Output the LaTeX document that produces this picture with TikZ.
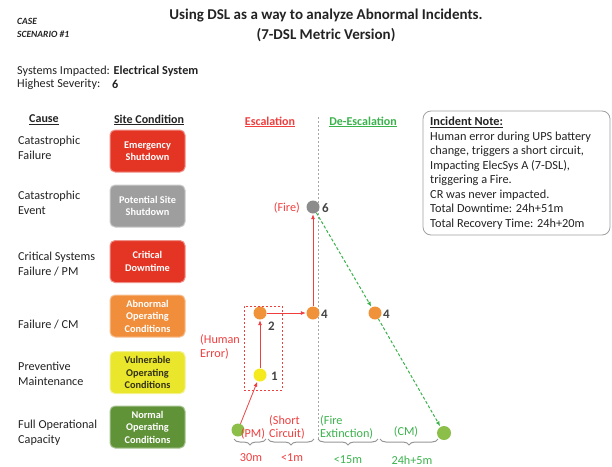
\documentclass[tikz,border=0pt]{standalone}
\usepackage{fontspec}
\setmainfont{Carlito}
\usetikzlibrary{arrows.meta,decorations.pathreplacing}

\definecolor{escred}{RGB}{238,62,62}
\definecolor{deesc}{RGB}{58,178,76}
\definecolor{boxred}{RGB}{228,52,36}
\definecolor{boxgray}{RGB}{158,158,158}
\definecolor{boxorange}{RGB}{240,142,60}
\definecolor{boxyellow}{RGB}{234,230,44}
\definecolor{boxgreen}{RGB}{96,146,56}
\definecolor{dotorange}{RGB}{240,146,58}
\definecolor{dotgray}{RGB}{140,140,140}
\definecolor{dotyellow}{RGB}{244,234,30}
\definecolor{dotgreen}{RGB}{140,190,74}
\definecolor{ink}{RGB}{35,35,35}
\definecolor{bracegray}{RGB}{150,150,150}

\tikzset{
  txt/.style={inner sep=0pt, text=ink, font=\fontsize{12.2}{15}\selectfont},
  cause/.style={txt, anchor=west, align=left},
  head/.style={txt, font=\bfseries\fontsize{12}{15}\selectfont},
  condbox/.style={rounded corners=5pt, minimum width=75pt, minimum height=42pt,
    inner sep=1pt, align=center, text=white,
    font=\bfseries\fontsize{10.3}{12.5}\selectfont, line width=1pt},
  dot/.style={circle, minimum size=13pt, inner sep=0pt},
  num/.style={txt, font=\bfseries\fontsize{13}{13}\selectfont, text=ink!85},
  redtxt/.style={txt, text=escred},
  greentxt/.style={txt, text=deesc},
  escarrow/.style={draw=escred, line width=0.8pt, -{Latex[length=5pt,width=4pt]}, shorten >=0.5pt},
  deescarrow/.style={draw=deesc, line width=1pt, dash pattern=on 3pt off 2pt,
    -{Latex[length=5pt,width=4pt]}, shorten >=0.5pt},
  spanbrace/.style={draw=bracegray, line width=1pt,
    decorate, decoration={brace, mirror, amplitude=6pt}},
}

\begin{document}
\begin{tikzpicture}[x=1pt, y=-1pt]
\useasboundingbox (0,0) rectangle (612,466);

% header
\node[txt, anchor=west, font=\bfseries\itshape\fontsize{9.5}{11}\selectfont] (case) at (17,21) {CASE};
\node[txt, anchor=west, font=\bfseries\itshape\fontsize{9.5}{11}\selectfont] (scen) at (17,34) {SCENARIO \#1};
\node[txt, font=\bfseries\fontsize{15}{18}\selectfont] (title1) at (326,16) {Using DSL as a way to analyze Abnormal Incidents.};
\node[txt, font=\bfseries\fontsize{15}{18}\selectfont] (title2) at (326,35) {(7-DSL Metric Version)};
\node[txt, anchor=west, font=\fontsize{12.2}{14}\selectfont] (sys) at (17,71) {Systems Impacted: \textbf{Electrical System}};
\node[txt, anchor=west, font=\fontsize{12.2}{14}\selectfont] (sev) at (17,84) {Highest Severity:};
\node[txt, anchor=west, font=\bfseries\fontsize{12.2}{14}\selectfont] (sevv) at (112,84) {6};

% column headings
\node[head] (hcause) at (44,120) {\underline{Cause}};
\node[head] (hsite) at (149,120) {\underline{Site Condition}};
\node[head, text=escred] (hesc) at (270,122) {\underline{Escalation}};
\node[head, text=deesc] (hdesc) at (363,122) {\underline{De-Escalation}};

% causes
\node[cause] (c1) at (18,147.5) {Catastrophic\\Failure};
\node[cause] (c2) at (18,202.5) {Catastrophic\\Event};
\node[cause] (c3) at (18,264.5) {Critical Systems\\Failure / PM};
\node[cause] (c4) at (18,325) {Failure / CM};
\node[cause] (c5) at (18,374) {Preventive\\Maintenance};
\node[cause] (c6) at (18,432.5) {Full Operational\\Capacity};

% site conditions
\node[condbox, fill=boxred, draw=boxred!55!white] (b1) at (147.5,151) {Emergency\\Shutdown};
\node[condbox, fill=boxgray, draw=boxgray!55!white] (b2) at (147.5,206) {Potential Site\\Shutdown};
\node[condbox, fill=boxred, draw=boxred!55!white] (b3) at (147.5,261.5) {Critical\\Downtime};
\node[condbox, fill=boxorange, draw=boxorange!55!white] (b4) at (147.5,316) {Abnormal\\Operating\\Conditions};
\node[condbox, fill=boxyellow, draw=boxyellow!55!white, text=ink!75!boxyellow!60!black] (b5) at (147.5,372.5) {Vulnerable\\Operating\\Conditions};
\node[condbox, fill=boxgreen, draw=boxgreen!55!white] (b6) at (147.5,427) {Normal\\Operating\\Conditions};

% escalation / de-escalation divider
\coordinate (divtop) at (318,117);
\coordinate (divbot) at (318,441);
\draw[gray!70, line width=0.8pt, dash pattern=on 2pt off 2pt] (divtop) -- (divbot);

% severity path
\node[dot, fill=dotgray] (n6) at (313,207) {};
\node[dot, fill=dotorange] (n4a) at (313,313) {};
\node[dot, fill=dotorange] (n4b) at (375,313) {};
\node[dot, fill=dotorange] (n2) at (260,313) {};
\node[dot, fill=dotyellow] (n1) at (260,375) {};
\node[dot, fill=dotgreen] (s) at (238,430) {};
\node[dot, fill=dotgreen, minimum size=14pt] (e) at (444,433) {};

\node[draw=escred, line width=0.8pt, dash pattern=on 2pt off 2pt,
      minimum width=38pt, minimum height=84pt, inner sep=0pt] (hebox) at (263,348) {};

\node[num, anchor=west] (l6) at (322,208) {6};
\node[num, anchor=west] (l4a) at (321,314) {4};
\node[num, anchor=west] (l4b) at (383,314) {4};
\node[num, anchor=west] (l2) at (268,326) {2};
\node[num, anchor=west] (l1) at (271,376) {1};

\draw[escarrow] (s) -- (n1);
\draw[escarrow] (n1) -- (n2);
\draw[escarrow] (n2) -- (n4a);
\draw[escarrow] (n4a) -- (n6);
\draw[deescarrow] (n6) -- (n4b);
\draw[deescarrow] (n4b) -- (e);

% event labels
\node[redtxt, anchor=east] (fire) at (300,208) {(Fire)};
\node[redtxt, anchor=west, align=left, font=\fontsize{12.2}{14}\selectfont] (human) at (200,347) {(Human\\Error)};
\node[redtxt] (pm) at (253,434) {(PM)};
\node[redtxt, anchor=west, align=left, font=\fontsize{12.2}{13.5}\selectfont] (short) at (269,427.5) {(Short\\Circuit)};
\node[greentxt, anchor=west, align=left, font=\fontsize{12.2}{13.5}\selectfont] (ext) at (320,427.5) {(Fire\\Extinction)};
\node[greentxt] (cm) at (406,432) {(CM)};

% durations
\coordinate (p0) at (234,439);
\coordinate (p1) at (266,439);
\coordinate (p2) at (268,439);
\coordinate (p3) at (314,439);
\coordinate (p4) at (318,439);
\coordinate (p5) at (378,439);
\coordinate (p6) at (380,439);
\coordinate (p7) at (438,439);
\draw[spanbrace] (p0) -- (p1);
\draw[spanbrace] (p2) -- (p3);
\draw[spanbrace] (p4) -- (p5);
\draw[spanbrace] (p6) -- (p7);
\node[redtxt] (t1) at (251,458) {30m};
\node[redtxt] (t2) at (292,458) {<1m};
\node[greentxt] (t3) at (348,460) {<15m};
\node[greentxt] (t4) at (412,460) {24h+5m};

% incident note
\node[draw=gray!75, line width=0.8pt, rounded corners=8pt, minimum width=187pt,
      minimum height=124pt, inner sep=0pt] (notebox) at (516.5,173) {};
\node[txt, anchor=north west, align=left, font=\fontsize{12.3}{14.5}\selectfont] (note) at (430,117)
  {\textbf{\underline{Incident Note:}}\\
   Human error during UPS battery\\
   change, triggers a short circuit,\\
   Impacting ElecSys A (7-DSL),\\
   triggering a Fire.\\
   CR was never impacted.\\
   Total Downtime: 24h+51m\\
   Total Recovery Time: 24h+20m};
\end{tikzpicture}
\end{document}
